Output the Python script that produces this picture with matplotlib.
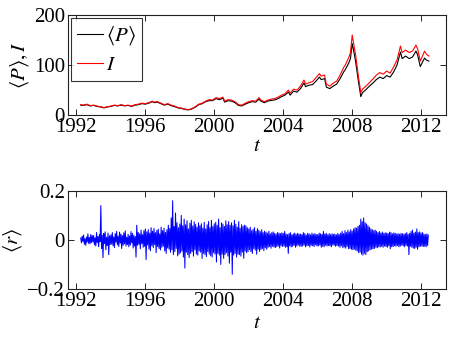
import matplotlib
matplotlib.use('Agg')
import matplotlib.pyplot as plt
import numpy as np

# price series
t_price = [1992.25, 1992.4, 1992.6, 1992.8, 1993.0, 1993.2, 1993.4, 1993.6, 1993.8, 1994.0,
           1994.2, 1994.4, 1994.6, 1994.8, 1995.0, 1995.2, 1995.4, 1995.6, 1995.8, 1996.0,
           1996.2, 1996.4, 1996.5, 1996.7, 1996.9, 1997.1, 1997.3, 1997.5, 1997.7, 1997.9,
           1998.1, 1998.3, 1998.5, 1998.7, 1998.9, 1999.1, 1999.3, 1999.5, 1999.7, 1999.9,
           2000.1, 2000.3, 2000.5, 2000.6, 2000.8, 2001.0, 2001.2, 2001.4, 2001.6, 2001.8,
           2002.0, 2002.2, 2002.4, 2002.6, 2002.7, 2002.9, 2003.1, 2003.3, 2003.5, 2003.7,
           2003.9, 2004.1, 2004.3, 2004.4, 2004.6, 2004.8, 2005.0, 2005.2, 2005.3, 2005.5,
           2005.7, 2005.9, 2006.1, 2006.2, 2006.4, 2006.5, 2006.7, 2006.9, 2007.1, 2007.3,
           2007.5, 2007.6, 2007.8, 2007.9, 2008.0, 2008.1, 2008.2, 2008.35, 2008.5, 2008.6,
           2008.8, 2009.0, 2009.2, 2009.4, 2009.6, 2009.8, 2010.0, 2010.2, 2010.4, 2010.6,
           2010.8, 2010.9, 2011.1, 2011.3, 2011.5, 2011.7, 2011.8, 2011.95, 2012.05, 2012.2,
           2012.3, 2012.45]
index_I = [21, 20, 22, 19, 20, 18, 17, 15, 17, 18,
           20, 19, 21, 19, 20, 18, 21, 22, 24, 23,
           25, 28, 26, 27, 24, 21, 23, 20, 18, 15,
           14, 12, 11, 13, 17, 22, 24, 28, 31, 30,
           35, 33, 36, 28, 31, 30, 27, 21, 20, 24,
           27, 29, 28, 35, 30, 27, 30, 32, 33, 36,
           40, 43, 50, 44, 52, 50, 58, 70, 62, 65,
           67, 75, 83, 78, 80, 62, 58, 64, 68, 80,
           95, 100, 115, 125, 160, 140, 120, 80, 45, 52,
           58, 65, 72, 80, 85, 82, 88, 84, 96, 110,
           138, 125, 130, 125, 128, 140, 132, 108, 116, 128,
           122, 118]
avg_P = [20, 19.5, 21, 18.5, 19.5, 17.5, 16.5, 14.5, 16.5, 17.5,
         19.5, 18.5, 20, 18.5, 19.5, 17.5, 20, 21, 23, 22,
         24, 27, 25, 26, 23, 20, 22, 19, 17, 14.5,
         13.5, 11.5, 10.5, 12.5, 16, 21, 23, 27, 29, 29,
         33, 31, 34, 26, 29, 28, 25, 19.5, 18.5, 22,
         25, 27, 26, 32, 28, 25, 28, 29.5, 30.5, 33,
         37, 40, 46, 40, 48, 46, 53, 64, 57, 60,
         61, 68, 76, 71, 73, 56, 53, 58, 62, 73,
         86, 91, 104, 113, 143, 126, 107, 70, 37, 45,
         51, 58, 64, 71, 76, 73, 79, 76, 86, 100,
         126, 113, 118, 113, 116, 128, 120, 97, 104, 114,
         110, 108]

# returns, in units of 1e-3, ~24 samples per year starting 1992.25
r_milli = [
    8, -12, 15, -6, 20, -18, 5, -22, 12, -9, 25, -14, 10, -16, 22, -11, 18, -8,
    18, -20, 9, -25, 30, -11, 14, -28, 22, -7, 140, -35, 19, -72, 26, -15, 33, -40, 11, -23, 28, -60, 17, -19,
    21, -17, 30, -24, 12, -31, 26, -9, 35, -20, 15, -27, 32, -13, 24, -35, 18, -22, 29, -16, 37, -25, 11, -19,
    23, -28, 16, -21, 34, -12, 27, -33, 19, -25, 14, -70, 60, -22, 31, -18, 25, -36, 40, -15, 22, -30, 38, -26,
    45, -80, 33, -20, 42, -37, 28, -44, 50, -24, 36, -31, 47, -19, 30, -52, 39, -27, 44, -35, 25, -41, 52, -30,
    38, -26, 48, -45, 31, -55, 42, -33, 60, -38, 47, -50, 90, -40, 160, -60, 55, -48, 110, -35, 70, -65, 50, -58,
    65, -52, 100, -45, 58, -70, 85, -115, 62, -50, 78, -60, 45, -72, 68, -55, 80, -48, 57, -66, 74, -40, 63, -58,
    52, -62, 70, -45, 58, -50, 66, -75, 48, -55, 72, -60, 45, -68, 62, -48, 75, -58, 50, -65, 80, -70, 55, -52,
    66, -58, 72, -90, 60, -55, 85, -62, 50, -100, 70, -58, 65, -75, 55, -60, 78, -52, 62, -66, 75, -95, 60, -50,
    70, -140, 58, -62, 80, -55, 64, -70, 52, -58, 75, -60, 48, -66, 62, -50, 55, -75, 60, -45, 58, -52, 50, -48,
    45, -40, 52, -48, 38, -55, 44, -36, 50, -42, 35, -58, 46, -38, 40, -47, 34, -39, 42, -35, 30, -44, 36, -32,
    32, -38, 28, -30, 36, -27, 25, -34, 30, -26, 33, -29, 27, -31, 24, -28, 30, -25, 28, -33, 26, -23, 29, -27,
    27, -25, 35, -30, 24, -28, 22, -55, 26, -24, 30, -29, 21, -26, 25, -22, 28, -30, 23, -25, 27, -21, 24, -26,
    24, -26, 22, -25, 30, -21, 26, -28, 20, -24, 27, -23, 25, -29, 21, -22, 28, -24, 23, -27, 26, -20, 22, -25,
    22, -24, 28, -21, 25, -30, 23, -26, 35, -28, 24, -22, 27, -25, 21, -23, 26, -24, 22, -28, 25, -21, 23, -22,
    24, -26, 21, -23, 27, -25, 22, -30, 28, -24, 35, -32, 26, -29, 38, -34, 30, -27, 40, -36, 33, -35, 42, -38,
    36, -40, 45, -38, 50, -42, 48, -45, 55, -52, 60, -50, 85, -58, 75, -62, 90, -55, 70, -60, 65, -48, 58, -45,
    52, -40, 45, -38, 42, -36, 38, -35, 40, -30, 35, -32, 30, -28, 34, -29, 28, -26, 32, -30, 27, -25, 29, -27,
    28, -30, 26, -24, 32, -36, 30, -28, 25, -27, 29, -24, 27, -26, 24, -23, 26, -28, 23, -25, 27, -22, 25, -24,
    24, -28, 26, -22, 30, -25, 23, -60, 27, -26, 35, -30, 40, -33, 28, -35, 32, -30, 45, -38, 30, -28, 33, -26,
    28, -25, 30, -27, 24, -26, 22, -28, 25, -23, 20,
]
r_start = 1992.25

years = [1992, 1996, 2000, 2004, 2008, 2012]

plt.rcParams['font.family'] = 'Liberation Serif'
plt.rcParams['mathtext.fontset'] = 'stix'
plt.rcParams['font.size'] = 15
plt.rcParams['axes.linewidth'] = 0.8
plt.rcParams['axes.edgecolor'] = '#222222'

fig = plt.figure(figsize=(4.52, 3.49), dpi=100)
ax1 = fig.add_axes([0.150, 0.670, 0.837, 0.287])
ax2 = fig.add_axes([0.150, 0.172, 0.837, 0.281])

ax1.plot(t_price, avg_P, color='black', lw=0.8, label=r'$\langle P\rangle$')
ax1.plot(t_price, index_I, color='red', lw=0.8, label=r'$I$')
ax1.set_ylim(0, 200)
ax1.set_yticks([0, 100, 200])
ax1.set_ylabel(r'$\langle P\rangle, I$', labelpad=2)
leg = ax1.legend(loc='upper left', frameon=True, fancybox=False, edgecolor='black',
                 handlelength=1.25, handletextpad=0.15, borderpad=0.3, labelspacing=0.4,
                 borderaxespad=0.15, fontsize=15)
leg.get_frame().set_linewidth(0.8)

r = np.array(r_milli) / 1000.0
t_r = r_start + np.arange(len(r)) / 24.0
ax2.plot(t_r, r, color='blue', lw=0.75)
ax2.set_ylim(-0.2, 0.2)
ax2.set_yticks([-0.2, 0, 0.2])
ax2.set_yticklabels(['\u22120.2', '0', '0.2'])
ax2.set_ylabel(r'$\langle r\rangle$', labelpad=2)

for ax in (ax1, ax2):
    ax.set_xlim(1991.5, 2013.45)
    ax.set_xticks(years)
    ax.set_xticklabels([str(y) for y in years])
    ax.tick_params(direction='in', top=True, right=True, length=4, width=0.6, pad=2)
ax1.set_xlabel(r'$t$', labelpad=0)
ax2.set_xlabel(r'$t$', labelpad=2)

fig.savefig('out.png', dpi=100)
